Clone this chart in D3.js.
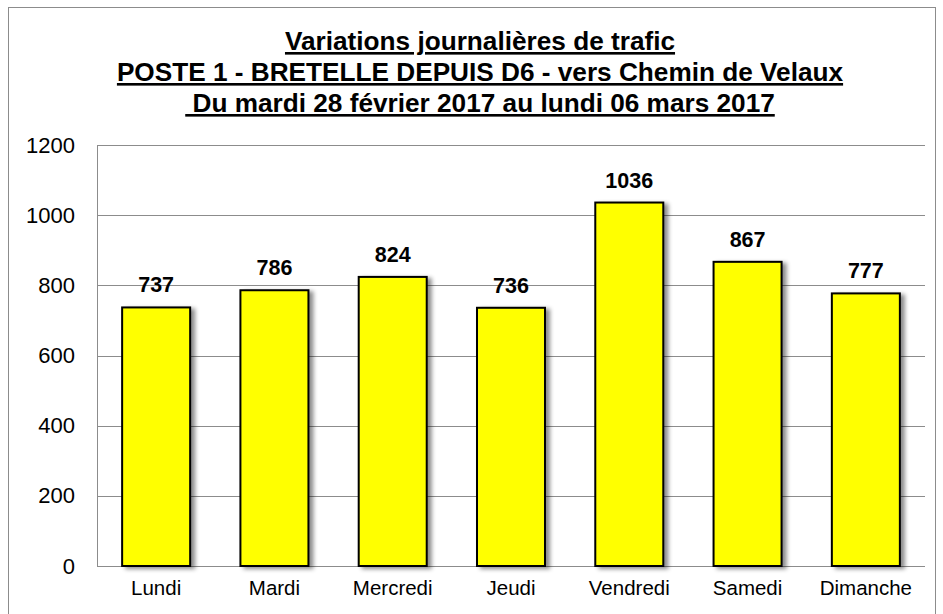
<!DOCTYPE html>
<html><head><meta charset="utf-8">
<script src="https://cdn.jsdelivr.net/npm/d3@7"></script>
<style>body{margin:0;background:#fff}svg{display:block}text{font-family:"Liberation Sans",Arial,sans-serif}</style>
</head><body>
<script>
const categories = ["Lundi","Mardi","Mercredi","Jeudi","Vendredi","Samedi","Dimanche"];
const values = [737,786,824,736,1036,867,777];
const yTicks = [0,200,400,600,800,1000,1200];
const titleLines = ["Variations journalières de trafic","POSTE 1 - BRETELLE DEPUIS D6 - vers Chemin de Velaux"," Du mardi 28 février 2017 au lundi 06 mars 2017"];

const W=943,H=614;
const FF="'Liberation Sans',Arial,sans-serif";
const svg=d3.select("body").append("svg").attr("width",W).attr("height",H);
const defs=svg.append("defs");
const f=defs.append("filter").attr("id","sh").attr("x","-20%").attr("y","-5%").attr("width","150%").attr("height","115%");
f.append("feDropShadow").attr("dx",4).attr("dy",2).attr("stdDeviation",2).attr("flood-color","#000").attr("flood-opacity",0.45);

svg.append("rect").attr("x",8.5).attr("y",7.5).attr("width",927).attr("height",620).attr("fill","none").attr("stroke","#8c8c8c").attr("stroke-width",1);

const m={l:97,r:925,t:145,b:566};
const x=d3.scaleBand().domain(categories).range([m.l,m.r]).paddingInner(0.425).paddingOuter(0.2125);
const y=d3.scaleLinear().domain([0,1200]).range([m.b,m.t]);

// gridlines
svg.append("g").selectAll("line").data(yTicks).join("line")
 .attr("x1",m.l).attr("x2",m.r).attr("y1",d=>Math.round(y(d))+0.5).attr("y2",d=>Math.round(y(d))+0.5)
 .attr("stroke","#8c8c8c").attr("stroke-width",1);
svg.append("line").attr("x1",m.l+0.5).attr("x2",m.l+0.5).attr("y1",m.t).attr("y2",m.b).attr("stroke","#8c8c8c");

// y axis labels
const ya=svg.append("g").attr("transform",`translate(${m.l},0)`).call(d3.axisLeft(y).tickValues(yTicks).tickFormat(d3.format("d")).tickSize(0).tickPadding(22));
ya.select(".domain").remove();
ya.selectAll("text").attr("font-size",22).attr("fill","#000").attr("font-family",FF);

// x axis labels
const xa=svg.append("g").attr("transform",`translate(0,${m.b})`).call(d3.axisBottom(x).tickSize(0).tickPadding(14));
xa.select(".domain").remove();
xa.selectAll("text").attr("font-size",20.5).attr("fill","#000").attr("font-family",FF);

// bars
svg.append("g").selectAll("rect").data(values).join("rect")
 .attr("x",(d,i)=>x(categories[i])).attr("width",x.bandwidth())
 .attr("y",d=>y(d)).attr("height",d=>y(0)-y(d))
 .attr("fill","#ffff00").attr("stroke","#000").attr("stroke-width",2).attr("filter","url(#sh)");

// value labels
svg.append("g").selectAll("text").data(values).join("text")
 .attr("x",(d,i)=>x(categories[i])+x.bandwidth()/2).attr("y",d=>y(d)-15)
 .attr("text-anchor","middle").attr("font-size",21.5).attr("font-weight","bold").attr("font-family",FF).text(d=>d);

// title
svg.append("g").selectAll("text").data(titleLines).join("text")
 .attr("x",480).attr("y",(d,i)=>50+i*31).attr("text-anchor","middle")
 .attr("font-size",26.2).attr("font-weight","bold").attr("text-decoration","underline").attr("font-family",FF)
 .attr("xml:space","preserve").style("white-space","pre").text(d=>d);
</script>
</body></html>
